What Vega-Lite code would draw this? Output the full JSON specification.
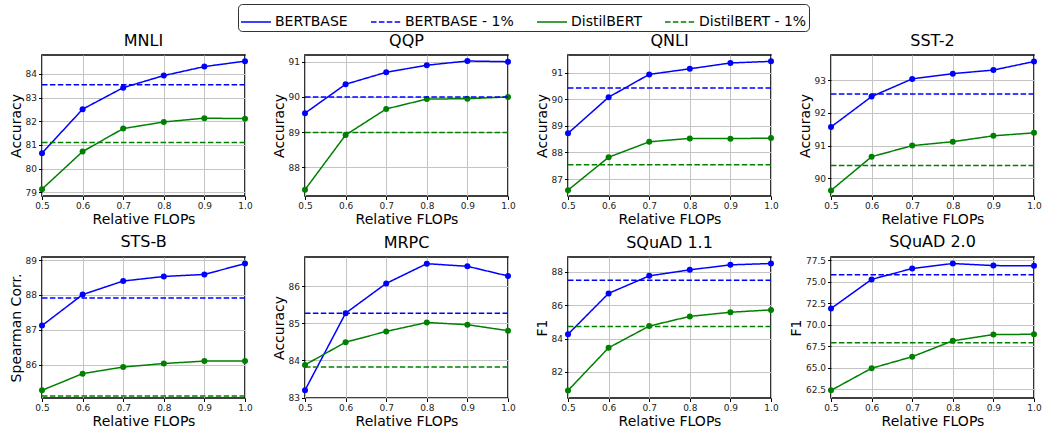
{
  "$schema": "https://vega.github.io/schema/vega-lite/v6.json",
  "padding": {"left": 8, "top": 3, "right": 0, "bottom": 0},
  "bounds": "flush",
  "columns": 4,
  "spacing": {"row": 61, "column": 60},
  "resolve": {"scale": {"x": "independent", "y": "independent", "color": "shared", "strokeDash": "shared"}, "axis": {"x": "independent", "y": "independent"}},
  "config": {
    "font": "DejaVu Sans",
    "view": {"stroke": "#000000", "strokeWidth": 1.6},
    "axis": {"domain": false, "grid": true, "gridColor": "#c4c4c4", "gridWidth": 1, "ticks": true, "tickColor": "#000000", "tickSize": 3.5, "labelFontSize": 9, "labelColor": "#222222", "labelPadding": 2, "titleFontSize": 14, "titleFontWeight": "normal", "titleColor": "#000000", "titlePadding": 2, "labelFlush": false, "labelOverlap": false},
    "title": {"fontSize": 16, "fontWeight": "normal", "baseline": "alphabetic", "offset": 6, "color": "#000000"},
    "legend": {"title": null, "symbolType": "stroke", "symbolSize": 900, "symbolStrokeWidth": 1.5, "labelFontSize": 14, "labelColor": "#000000", "labelOffset": 3, "strokeColor": "#333333", "cornerRadius": 4, "padding": 2, "columnPadding": 20, "fillColor": "#ffffff"}
  },
  "data": {"values": [
    {"task": "MNLI", "series": "BERTBASE", "flops": 0.5, "value": 80.65},
    {"task": "MNLI", "series": "BERTBASE", "flops": 0.6, "value": 82.51},
    {"task": "MNLI", "series": "BERTBASE", "flops": 0.7, "value": 83.42},
    {"task": "MNLI", "series": "BERTBASE", "flops": 0.8, "value": 83.93},
    {"task": "MNLI", "series": "BERTBASE", "flops": 0.9, "value": 84.31},
    {"task": "MNLI", "series": "BERTBASE", "flops": 1.0, "value": 84.54},
    {"task": "MNLI", "series": "DistilBERT", "flops": 0.5, "value": 79.13},
    {"task": "MNLI", "series": "DistilBERT", "flops": 0.6, "value": 80.72},
    {"task": "MNLI", "series": "DistilBERT", "flops": 0.7, "value": 81.69},
    {"task": "MNLI", "series": "DistilBERT", "flops": 0.8, "value": 81.97},
    {"task": "MNLI", "series": "DistilBERT", "flops": 0.9, "value": 82.13},
    {"task": "MNLI", "series": "DistilBERT", "flops": 1.0, "value": 82.11},
    {"task": "MNLI", "series": "BERTBASE - 1%", "flops": null, "value": 83.54},
    {"task": "MNLI", "series": "DistilBERT - 1%", "flops": null, "value": 81.10},

    {"task": "QQP", "series": "BERTBASE", "flops": 0.5, "value": 89.54},
    {"task": "QQP", "series": "BERTBASE", "flops": 0.6, "value": 90.36},
    {"task": "QQP", "series": "BERTBASE", "flops": 0.7, "value": 90.70},
    {"task": "QQP", "series": "BERTBASE", "flops": 0.8, "value": 90.90},
    {"task": "QQP", "series": "BERTBASE", "flops": 0.9, "value": 91.02},
    {"task": "QQP", "series": "BERTBASE", "flops": 1.0, "value": 91.00},
    {"task": "QQP", "series": "DistilBERT", "flops": 0.5, "value": 87.37},
    {"task": "QQP", "series": "DistilBERT", "flops": 0.6, "value": 88.92},
    {"task": "QQP", "series": "DistilBERT", "flops": 0.7, "value": 89.66},
    {"task": "QQP", "series": "DistilBERT", "flops": 0.8, "value": 89.94},
    {"task": "QQP", "series": "DistilBERT", "flops": 0.9, "value": 89.95},
    {"task": "QQP", "series": "DistilBERT", "flops": 1.0, "value": 90.00},
    {"task": "QQP", "series": "BERTBASE - 1%", "flops": null, "value": 90.00},
    {"task": "QQP", "series": "DistilBERT - 1%", "flops": null, "value": 88.99},

    {"task": "QNLI", "series": "BERTBASE", "flops": 0.5, "value": 88.72},
    {"task": "QNLI", "series": "BERTBASE", "flops": 0.6, "value": 90.08},
    {"task": "QNLI", "series": "BERTBASE", "flops": 0.7, "value": 90.94},
    {"task": "QNLI", "series": "BERTBASE", "flops": 0.8, "value": 91.15},
    {"task": "QNLI", "series": "BERTBASE", "flops": 0.9, "value": 91.37},
    {"task": "QNLI", "series": "BERTBASE", "flops": 1.0, "value": 91.43},
    {"task": "QNLI", "series": "DistilBERT", "flops": 0.5, "value": 86.58},
    {"task": "QNLI", "series": "DistilBERT", "flops": 0.6, "value": 87.82},
    {"task": "QNLI", "series": "DistilBERT", "flops": 0.7, "value": 88.40},
    {"task": "QNLI", "series": "DistilBERT", "flops": 0.8, "value": 88.53},
    {"task": "QNLI", "series": "DistilBERT", "flops": 0.9, "value": 88.52},
    {"task": "QNLI", "series": "DistilBERT", "flops": 1.0, "value": 88.54},
    {"task": "QNLI", "series": "BERTBASE - 1%", "flops": null, "value": 90.43},
    {"task": "QNLI", "series": "DistilBERT - 1%", "flops": null, "value": 87.54},

    {"task": "SST-2", "series": "BERTBASE", "flops": 0.5, "value": 91.57},
    {"task": "SST-2", "series": "BERTBASE", "flops": 0.6, "value": 92.50},
    {"task": "SST-2", "series": "BERTBASE", "flops": 0.7, "value": 93.04},
    {"task": "SST-2", "series": "BERTBASE", "flops": 0.8, "value": 93.20},
    {"task": "SST-2", "series": "BERTBASE", "flops": 0.9, "value": 93.31},
    {"task": "SST-2", "series": "BERTBASE", "flops": 1.0, "value": 93.57},
    {"task": "SST-2", "series": "DistilBERT", "flops": 0.5, "value": 89.63},
    {"task": "SST-2", "series": "DistilBERT", "flops": 0.6, "value": 90.66},
    {"task": "SST-2", "series": "DistilBERT", "flops": 0.7, "value": 91.00},
    {"task": "SST-2", "series": "DistilBERT", "flops": 0.8, "value": 91.12},
    {"task": "SST-2", "series": "DistilBERT", "flops": 0.9, "value": 91.30},
    {"task": "SST-2", "series": "DistilBERT", "flops": 1.0, "value": 91.39},
    {"task": "SST-2", "series": "BERTBASE - 1%", "flops": null, "value": 92.58},
    {"task": "SST-2", "series": "DistilBERT - 1%", "flops": null, "value": 90.39},

    {"task": "STS-B", "series": "BERTBASE", "flops": 0.5, "value": 87.12},
    {"task": "STS-B", "series": "BERTBASE", "flops": 0.6, "value": 88.01},
    {"task": "STS-B", "series": "BERTBASE", "flops": 0.7, "value": 88.40},
    {"task": "STS-B", "series": "BERTBASE", "flops": 0.8, "value": 88.53},
    {"task": "STS-B", "series": "BERTBASE", "flops": 0.9, "value": 88.59},
    {"task": "STS-B", "series": "BERTBASE", "flops": 1.0, "value": 88.90},
    {"task": "STS-B", "series": "DistilBERT", "flops": 0.5, "value": 85.26},
    {"task": "STS-B", "series": "DistilBERT", "flops": 0.6, "value": 85.74},
    {"task": "STS-B", "series": "DistilBERT", "flops": 0.7, "value": 85.93},
    {"task": "STS-B", "series": "DistilBERT", "flops": 0.8, "value": 86.03},
    {"task": "STS-B", "series": "DistilBERT", "flops": 0.9, "value": 86.10},
    {"task": "STS-B", "series": "DistilBERT", "flops": 1.0, "value": 86.10},
    {"task": "STS-B", "series": "BERTBASE - 1%", "flops": null, "value": 87.91},
    {"task": "STS-B", "series": "DistilBERT - 1%", "flops": null, "value": 85.10},

    {"task": "MRPC", "series": "BERTBASE", "flops": 0.5, "value": 83.20},
    {"task": "MRPC", "series": "BERTBASE", "flops": 0.6, "value": 85.27},
    {"task": "MRPC", "series": "BERTBASE", "flops": 0.7, "value": 86.07},
    {"task": "MRPC", "series": "BERTBASE", "flops": 0.8, "value": 86.60},
    {"task": "MRPC", "series": "BERTBASE", "flops": 0.9, "value": 86.53},
    {"task": "MRPC", "series": "BERTBASE", "flops": 1.0, "value": 86.27},
    {"task": "MRPC", "series": "DistilBERT", "flops": 0.5, "value": 83.88},
    {"task": "MRPC", "series": "DistilBERT", "flops": 0.6, "value": 84.49},
    {"task": "MRPC", "series": "DistilBERT", "flops": 0.7, "value": 84.78},
    {"task": "MRPC", "series": "DistilBERT", "flops": 0.8, "value": 85.02},
    {"task": "MRPC", "series": "DistilBERT", "flops": 0.9, "value": 84.96},
    {"task": "MRPC", "series": "DistilBERT", "flops": 1.0, "value": 84.80},
    {"task": "MRPC", "series": "BERTBASE - 1%", "flops": null, "value": 85.27},
    {"task": "MRPC", "series": "DistilBERT - 1%", "flops": null, "value": 83.82},

    {"task": "SQuAD 1.1", "series": "BERTBASE", "flops": 0.5, "value": 84.26},
    {"task": "SQuAD 1.1", "series": "BERTBASE", "flops": 0.6, "value": 86.71},
    {"task": "SQuAD 1.1", "series": "BERTBASE", "flops": 0.7, "value": 87.76},
    {"task": "SQuAD 1.1", "series": "BERTBASE", "flops": 0.8, "value": 88.12},
    {"task": "SQuAD 1.1", "series": "BERTBASE", "flops": 0.9, "value": 88.42},
    {"task": "SQuAD 1.1", "series": "BERTBASE", "flops": 1.0, "value": 88.50},
    {"task": "SQuAD 1.1", "series": "DistilBERT", "flops": 0.5, "value": 80.89},
    {"task": "SQuAD 1.1", "series": "DistilBERT", "flops": 0.6, "value": 83.45},
    {"task": "SQuAD 1.1", "series": "DistilBERT", "flops": 0.7, "value": 84.75},
    {"task": "SQuAD 1.1", "series": "DistilBERT", "flops": 0.8, "value": 85.33},
    {"task": "SQuAD 1.1", "series": "DistilBERT", "flops": 0.9, "value": 85.58},
    {"task": "SQuAD 1.1", "series": "DistilBERT", "flops": 1.0, "value": 85.72},
    {"task": "SQuAD 1.1", "series": "BERTBASE - 1%", "flops": null, "value": 87.49},
    {"task": "SQuAD 1.1", "series": "DistilBERT - 1%", "flops": null, "value": 84.73},

    {"task": "SQuAD 2.0", "series": "BERTBASE", "flops": 0.5, "value": 71.88},
    {"task": "SQuAD 2.0", "series": "BERTBASE", "flops": 0.6, "value": 75.27},
    {"task": "SQuAD 2.0", "series": "BERTBASE", "flops": 0.7, "value": 76.54},
    {"task": "SQuAD 2.0", "series": "BERTBASE", "flops": 0.8, "value": 77.12},
    {"task": "SQuAD 2.0", "series": "BERTBASE", "flops": 0.9, "value": 76.88},
    {"task": "SQuAD 2.0", "series": "BERTBASE", "flops": 1.0, "value": 76.85},
    {"task": "SQuAD 2.0", "series": "DistilBERT", "flops": 0.5, "value": 62.35},
    {"task": "SQuAD 2.0", "series": "DistilBERT", "flops": 0.6, "value": 64.92},
    {"task": "SQuAD 2.0", "series": "DistilBERT", "flops": 0.7, "value": 66.27},
    {"task": "SQuAD 2.0", "series": "DistilBERT", "flops": 0.8, "value": 68.12},
    {"task": "SQuAD 2.0", "series": "DistilBERT", "flops": 0.9, "value": 68.85},
    {"task": "SQuAD 2.0", "series": "DistilBERT", "flops": 1.0, "value": 68.88},
    {"task": "SQuAD 2.0", "series": "BERTBASE - 1%", "flops": null, "value": 75.81},
    {"task": "SQuAD 2.0", "series": "DistilBERT - 1%", "flops": null, "value": 67.88}
  ]},
  "concat": [
    {
      "title": "MNLI", "width": 203, "height": 141,
      "transform": [{"filter": "datum.task === 'MNLI'"}],
      "encoding": {
        "y": {"field": "value", "type": "quantitative", "scale": {"domain": [78.84, 84.8], "nice": false, "zero": false}, "axis": {"values": [79, 80, 81, 82, 83, 84], "format": "d", "title": "Accuracy"}},
        "color": {"field": "series", "type": "nominal", "scale": {"domain": ["BERTBASE", "BERTBASE - 1%", "DistilBERT", "DistilBERT - 1%"], "range": ["#0000ff", "#0000ff", "#008000", "#008000"]}, "legend": {"orient": "none", "direction": "horizontal", "columns": 4, "legendX": 196, "legendY": -51}},
        "strokeDash": {"field": "series", "type": "nominal", "scale": {"domain": ["BERTBASE", "BERTBASE - 1%", "DistilBERT", "DistilBERT - 1%"], "range": [[1, 0], [5.5, 2.4], [1, 0], [5.5, 2.4]]}, "legend": {"orient": "none", "direction": "horizontal", "columns": 4, "legendX": 196, "legendY": -51}}
      },
      "layer": [
        {"transform": [{"filter": "datum.flops != null"}], "mark": {"type": "line", "strokeWidth": 1.5, "point": {"filled": true, "size": 36}}, "encoding": {"x": {"field": "flops", "type": "quantitative", "scale": {"domain": [0.5, 1.0], "nice": false, "zero": false}, "axis": {"values": [0.5, 0.6, 0.7, 0.8, 0.9, 1.0], "format": ".1f", "title": "Relative FLOPs"}}}},
        {"transform": [{"filter": "datum.flops == null"}], "mark": {"type": "rule", "strokeWidth": 1.5}, "encoding": {}}
      ]
    },
    {
      "title": "QQP", "width": 203, "height": 141,
      "transform": [{"filter": "datum.task === 'QQP'"}],
      "encoding": {
        "y": {"field": "value", "type": "quantitative", "scale": {"domain": [87.19, 91.19], "nice": false, "zero": false}, "axis": {"values": [88, 89, 90, 91], "format": "d", "title": "Accuracy"}},
        "color": {"field": "series", "type": "nominal", "scale": {"domain": ["BERTBASE", "BERTBASE - 1%", "DistilBERT", "DistilBERT - 1%"], "range": ["#0000ff", "#0000ff", "#008000", "#008000"]}, "legend": {"orient": "none", "direction": "horizontal", "columns": 4, "legendX": 196, "legendY": -51}},
        "strokeDash": {"field": "series", "type": "nominal", "scale": {"domain": ["BERTBASE", "BERTBASE - 1%", "DistilBERT", "DistilBERT - 1%"], "range": [[1, 0], [5.5, 2.4], [1, 0], [5.5, 2.4]]}, "legend": {"orient": "none", "direction": "horizontal", "columns": 4, "legendX": 196, "legendY": -51}}
      },
      "layer": [
        {"transform": [{"filter": "datum.flops != null"}], "mark": {"type": "line", "strokeWidth": 1.5, "point": {"filled": true, "size": 36}}, "encoding": {"x": {"field": "flops", "type": "quantitative", "scale": {"domain": [0.5, 1.0], "nice": false, "zero": false}, "axis": {"values": [0.5, 0.6, 0.7, 0.8, 0.9, 1.0], "format": ".1f", "title": "Relative FLOPs"}}}},
        {"transform": [{"filter": "datum.flops == null"}], "mark": {"type": "rule", "strokeWidth": 1.5}, "encoding": {}}
      ]
    },
    {
      "title": "QNLI", "width": 203, "height": 141,
      "transform": [{"filter": "datum.task === 'QNLI'"}],
      "encoding": {
        "y": {"field": "value", "type": "quantitative", "scale": {"domain": [86.36, 91.67], "nice": false, "zero": false}, "axis": {"values": [87, 88, 89, 90, 91], "format": "d", "title": "Accuracy"}},
        "color": {"field": "series", "type": "nominal", "scale": {"domain": ["BERTBASE", "BERTBASE - 1%", "DistilBERT", "DistilBERT - 1%"], "range": ["#0000ff", "#0000ff", "#008000", "#008000"]}, "legend": {"orient": "none", "direction": "horizontal", "columns": 4, "legendX": 196, "legendY": -51}},
        "strokeDash": {"field": "series", "type": "nominal", "scale": {"domain": ["BERTBASE", "BERTBASE - 1%", "DistilBERT", "DistilBERT - 1%"], "range": [[1, 0], [5.5, 2.4], [1, 0], [5.5, 2.4]]}, "legend": {"orient": "none", "direction": "horizontal", "columns": 4, "legendX": 196, "legendY": -51}}
      },
      "layer": [
        {"transform": [{"filter": "datum.flops != null"}], "mark": {"type": "line", "strokeWidth": 1.5, "point": {"filled": true, "size": 36}}, "encoding": {"x": {"field": "flops", "type": "quantitative", "scale": {"domain": [0.5, 1.0], "nice": false, "zero": false}, "axis": {"values": [0.5, 0.6, 0.7, 0.8, 0.9, 1.0], "format": ".1f", "title": "Relative FLOPs"}}}},
        {"transform": [{"filter": "datum.flops == null"}], "mark": {"type": "rule", "strokeWidth": 1.5}, "encoding": {}}
      ]
    },
    {
      "title": "SST-2", "width": 203, "height": 141,
      "transform": [{"filter": "datum.task === 'SST-2'"}],
      "encoding": {
        "y": {"field": "value", "type": "quantitative", "scale": {"domain": [89.46, 93.77], "nice": false, "zero": false}, "axis": {"values": [90, 91, 92, 93], "format": "d", "title": "Accuracy"}},
        "color": {"field": "series", "type": "nominal", "scale": {"domain": ["BERTBASE", "BERTBASE - 1%", "DistilBERT", "DistilBERT - 1%"], "range": ["#0000ff", "#0000ff", "#008000", "#008000"]}, "legend": {"orient": "none", "direction": "horizontal", "columns": 4, "legendX": 196, "legendY": -51}},
        "strokeDash": {"field": "series", "type": "nominal", "scale": {"domain": ["BERTBASE", "BERTBASE - 1%", "DistilBERT", "DistilBERT - 1%"], "range": [[1, 0], [5.5, 2.4], [1, 0], [5.5, 2.4]]}, "legend": {"orient": "none", "direction": "horizontal", "columns": 4, "legendX": 196, "legendY": -51}}
      },
      "layer": [
        {"transform": [{"filter": "datum.flops != null"}], "mark": {"type": "line", "strokeWidth": 1.5, "point": {"filled": true, "size": 36}}, "encoding": {"x": {"field": "flops", "type": "quantitative", "scale": {"domain": [0.5, 1.0], "nice": false, "zero": false}, "axis": {"values": [0.5, 0.6, 0.7, 0.8, 0.9, 1.0], "format": ".1f", "title": "Relative FLOPs"}}}},
        {"transform": [{"filter": "datum.flops == null"}], "mark": {"type": "rule", "strokeWidth": 1.5}, "encoding": {}}
      ]
    },
    {
      "title": "STS-B", "width": 203, "height": 141,
      "transform": [{"filter": "datum.task === 'STS-B'"}],
      "encoding": {
        "y": {"field": "value", "type": "quantitative", "scale": {"domain": [85.04, 89.09], "nice": false, "zero": false}, "axis": {"values": [86, 87, 88, 89], "format": "d", "title": "Spearman Corr."}},
        "color": {"field": "series", "type": "nominal", "scale": {"domain": ["BERTBASE", "BERTBASE - 1%", "DistilBERT", "DistilBERT - 1%"], "range": ["#0000ff", "#0000ff", "#008000", "#008000"]}, "legend": {"orient": "none", "direction": "horizontal", "columns": 4, "legendX": 196, "legendY": -51}},
        "strokeDash": {"field": "series", "type": "nominal", "scale": {"domain": ["BERTBASE", "BERTBASE - 1%", "DistilBERT", "DistilBERT - 1%"], "range": [[1, 0], [5.5, 2.4], [1, 0], [5.5, 2.4]]}, "legend": {"orient": "none", "direction": "horizontal", "columns": 4, "legendX": 196, "legendY": -51}}
      },
      "layer": [
        {"transform": [{"filter": "datum.flops != null"}], "mark": {"type": "line", "strokeWidth": 1.5, "point": {"filled": true, "size": 36}}, "encoding": {"x": {"field": "flops", "type": "quantitative", "scale": {"domain": [0.5, 1.0], "nice": false, "zero": false}, "axis": {"values": [0.5, 0.6, 0.7, 0.8, 0.9, 1.0], "format": ".1f", "title": "Relative FLOPs"}}}},
        {"transform": [{"filter": "datum.flops == null"}], "mark": {"type": "rule", "strokeWidth": 1.5}, "encoding": {}}
      ]
    },
    {
      "title": "MRPC", "width": 203, "height": 141,
      "transform": [{"filter": "datum.task === 'MRPC'"}],
      "encoding": {
        "y": {"field": "value", "type": "quantitative", "scale": {"domain": [82.99, 86.78], "nice": false, "zero": false}, "axis": {"values": [83, 84, 85, 86], "format": "d", "title": "Accuracy"}},
        "color": {"field": "series", "type": "nominal", "scale": {"domain": ["BERTBASE", "BERTBASE - 1%", "DistilBERT", "DistilBERT - 1%"], "range": ["#0000ff", "#0000ff", "#008000", "#008000"]}, "legend": {"orient": "none", "direction": "horizontal", "columns": 4, "legendX": 196, "legendY": -51}},
        "strokeDash": {"field": "series", "type": "nominal", "scale": {"domain": ["BERTBASE", "BERTBASE - 1%", "DistilBERT", "DistilBERT - 1%"], "range": [[1, 0], [5.5, 2.4], [1, 0], [5.5, 2.4]]}, "legend": {"orient": "none", "direction": "horizontal", "columns": 4, "legendX": 196, "legendY": -51}}
      },
      "layer": [
        {"transform": [{"filter": "datum.flops != null"}], "mark": {"type": "line", "strokeWidth": 1.5, "point": {"filled": true, "size": 36}}, "encoding": {"x": {"field": "flops", "type": "quantitative", "scale": {"domain": [0.5, 1.0], "nice": false, "zero": false}, "axis": {"values": [0.5, 0.6, 0.7, 0.8, 0.9, 1.0], "format": ".1f", "title": "Relative FLOPs"}}}},
        {"transform": [{"filter": "datum.flops == null"}], "mark": {"type": "rule", "strokeWidth": 1.5}, "encoding": {}}
      ]
    },
    {
      "title": "SQuAD 1.1", "width": 203, "height": 141,
      "transform": [{"filter": "datum.task === 'SQuAD 1.1'"}],
      "encoding": {
        "y": {"field": "value", "type": "quantitative", "scale": {"domain": [80.44, 88.89], "nice": false, "zero": false}, "axis": {"values": [82, 84, 86, 88], "format": "d", "title": "F1"}},
        "color": {"field": "series", "type": "nominal", "scale": {"domain": ["BERTBASE", "BERTBASE - 1%", "DistilBERT", "DistilBERT - 1%"], "range": ["#0000ff", "#0000ff", "#008000", "#008000"]}, "legend": {"orient": "none", "direction": "horizontal", "columns": 4, "legendX": 196, "legendY": -51}},
        "strokeDash": {"field": "series", "type": "nominal", "scale": {"domain": ["BERTBASE", "BERTBASE - 1%", "DistilBERT", "DistilBERT - 1%"], "range": [[1, 0], [5.5, 2.4], [1, 0], [5.5, 2.4]]}, "legend": {"orient": "none", "direction": "horizontal", "columns": 4, "legendX": 196, "legendY": -51}}
      },
      "layer": [
        {"transform": [{"filter": "datum.flops != null"}], "mark": {"type": "line", "strokeWidth": 1.5, "point": {"filled": true, "size": 36}}, "encoding": {"x": {"field": "flops", "type": "quantitative", "scale": {"domain": [0.5, 1.0], "nice": false, "zero": false}, "axis": {"values": [0.5, 0.6, 0.7, 0.8, 0.9, 1.0], "format": ".1f", "title": "Relative FLOPs"}}}},
        {"transform": [{"filter": "datum.flops == null"}], "mark": {"type": "rule", "strokeWidth": 1.5}, "encoding": {}}
      ]
    },
    {
      "title": "SQuAD 2.0", "width": 203, "height": 141,
      "transform": [{"filter": "datum.task === 'SQuAD 2.0'"}],
      "encoding": {
        "y": {"field": "value", "type": "quantitative", "scale": {"domain": [61.46, 77.88], "nice": false, "zero": false}, "axis": {"values": [62.5, 65, 67.5, 70, 72.5, 75, 77.5], "format": ".1f", "title": "F1"}},
        "color": {"field": "series", "type": "nominal", "scale": {"domain": ["BERTBASE", "BERTBASE - 1%", "DistilBERT", "DistilBERT - 1%"], "range": ["#0000ff", "#0000ff", "#008000", "#008000"]}, "legend": {"orient": "none", "direction": "horizontal", "columns": 4, "legendX": 196, "legendY": -51}},
        "strokeDash": {"field": "series", "type": "nominal", "scale": {"domain": ["BERTBASE", "BERTBASE - 1%", "DistilBERT", "DistilBERT - 1%"], "range": [[1, 0], [5.5, 2.4], [1, 0], [5.5, 2.4]]}, "legend": {"orient": "none", "direction": "horizontal", "columns": 4, "legendX": 196, "legendY": -51}}
      },
      "layer": [
        {"transform": [{"filter": "datum.flops != null"}], "mark": {"type": "line", "strokeWidth": 1.5, "point": {"filled": true, "size": 36}}, "encoding": {"x": {"field": "flops", "type": "quantitative", "scale": {"domain": [0.5, 1.0], "nice": false, "zero": false}, "axis": {"values": [0.5, 0.6, 0.7, 0.8, 0.9, 1.0], "format": ".1f", "title": "Relative FLOPs"}}}},
        {"transform": [{"filter": "datum.flops == null"}], "mark": {"type": "rule", "strokeWidth": 1.5}, "encoding": {}}
      ]
    }
  ]
}
